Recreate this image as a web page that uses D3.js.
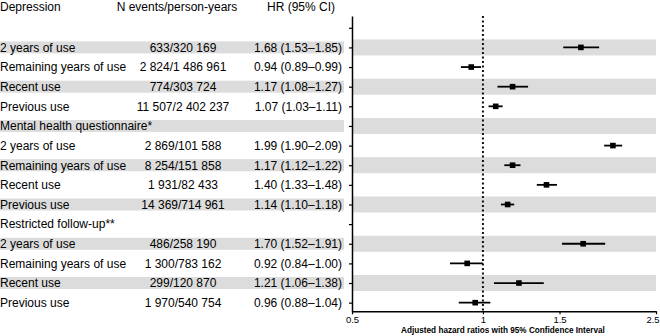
<!DOCTYPE html>
<html>
<head>
<meta charset="utf-8">
<script src="https://cdn.jsdelivr.net/npm/d3@7.9.0/dist/d3.min.js"></script>
<style>
  body { margin: 0; background: #fff; }
  svg { display: block; font-family: "Liberation Sans", Arial, sans-serif; }
</style>
</head>
<body>
<svg width="660" height="336"></svg>
<script>
// rows: first one is an empty spacer, group headers have no values
const labels = ["", "2 years of use", "Remaining years of use", "Recent use", "Previous use",
  "Mental health questionnaire*", "2 years of use", "Remaining years of use", "Recent use", "Previous use",
  "Restricted follow-up**", "2 years of use", "Remaining years of use", "Recent use", "Previous use"];
const events = ["", "633/320 169", "2 824/1 486 961", "774/303 724", "11 507/2 402 237",
  "", "2 869/101 588", "8 254/151 858", "1 931/82 433", "14 369/714 961",
  "", "486/258 190", "1 300/783 162", "299/120 870", "1 970/540 754"];
const hr = [null, 1.68, 0.94, 1.17, 1.07, null, 1.99, 1.17, 1.40, 1.14, null, 1.70, 0.92, 1.21, 0.96];
const lo = [null, 1.53, 0.89, 1.08, 1.03, null, 1.90, 1.12, 1.33, 1.10, null, 1.52, 0.84, 1.06, 0.88];
const hi = [null, 1.85, 0.99, 1.27, 1.11, null, 2.09, 1.22, 1.48, 1.18, null, 1.91, 1.00, 1.38, 1.04];
const xTicks = [0.5, 1, 1.5, 2.5];

const svg = d3.select("svg");
const fmt = d3.format(".2f");

const x = d3.scaleLog().domain([0.5, 2.5]).range([352, 656]);
const y = d3.scaleLinear().domain([-0.6, labels.length - 1 + 0.44]).range([16, 311.3]);

const rows = labels.map((label, i) => ({ i, label, ev: events[i], hr: hr[i], lo: lo[i], hi: hi[i] }));

// alternating grey bands
const shaded = rows.filter(d => d.i % 2 === 1);
svg.selectAll(".band-t").data(shaded).join("rect")
  .attr("x", 0).attr("width", 344)
  .attr("y", d => y(d.i) - 6).attr("height", 12)
  .attr("fill", "#dcdcdc");
svg.selectAll(".band-p").data(shaded).join("rect")
  .attr("x", x.range()[0] + 1).attr("width", x.range()[1] - x.range()[0] - 1)
  .attr("y", d => y(d.i) - 8).attr("height", 16)
  .attr("fill", "#dcdcdc");

// column headers
const head = svg.append("g").attr("font-size", 12).attr("fill", "#000");
head.append("text").attr("x", 0).attr("y", 11).text("Depression");
head.append("text").attr("x", 177).attr("y", 11).attr("text-anchor", "middle").text("N events/person-years");
head.append("text").attr("x", 335).attr("y", 11).attr("text-anchor", "end").text("HR (95% CI)");

// table text
const tab = svg.append("g").attr("font-size", 12).attr("fill", "#000");
tab.selectAll(".lab").data(rows).join("text")
  .attr("x", 0).attr("y", d => y(d.i) + 4.3).text(d => d.label);
tab.selectAll(".ev").data(rows).join("text")
  .attr("x", 183).attr("y", d => y(d.i) + 4.3).attr("text-anchor", "middle").text(d => d.ev);
tab.selectAll(".hr").data(rows.filter(d => d.hr != null)).join("text")
  .attr("x", 342).attr("y", d => y(d.i) + 4.3).attr("text-anchor", "end")
  .text(d => `${fmt(d.hr)} (${fmt(d.lo)}–${fmt(d.hi)})`);

// reference line at HR = 1
svg.append("line")
  .attr("x1", x(1)).attr("x2", x(1)).attr("y1", 16).attr("y2", 311)
  .attr("stroke", "#111").attr("stroke-width", 2).attr("stroke-dasharray", "2,2.5");

// y axis
const yAxis = d3.axisLeft(y).tickValues(d3.range(labels.length)).tickSize(3).tickFormat("").tickSizeOuter(0);
svg.append("g").attr("transform", `translate(${x.range()[0]},0)`).call(yAxis)
  .call(g => g.select(".domain").attr("stroke-width", 1.5))
  .call(g => g.selectAll(".tick line").attr("stroke-width", 1.2));

// x axis
const xAxis = d3.axisBottom(x).tickValues(xTicks).tickFormat(d3.format("")).tickSize(3).tickSizeOuter(0);
svg.append("g").attr("transform", `translate(0,${y.range()[1]})`).call(xAxis)
  .call(g => g.select(".domain").attr("stroke-width", 1.5))
  .call(g => g.selectAll(".tick line").attr("stroke-width", 1.2))
  .call(g => g.selectAll(".tick text").attr("font-size", 9.5).attr("font-family", null)
    .attr("dy", "0.6em").attr("fill", "#000")
    .attr("dx", d => d === xTicks[xTicks.length - 1] ? -3.5 : 0));

svg.append("text")
  .attr("x", (x.range()[0] + x.range()[1]) / 2 - 1).attr("y", 333)
  .attr("text-anchor", "middle").attr("font-size", 8.2).attr("font-weight", "bold").attr("fill", "#000")
  .text("Adjusted hazard ratios with 95% Confidence Interval");

// confidence intervals and point estimates
const est = rows.filter(d => d.hr != null);
svg.selectAll(".ci").data(est).join("line")
  .attr("x1", d => x(d.lo)).attr("x2", d => x(d.hi))
  .attr("y1", d => y(d.i)).attr("y2", d => y(d.i))
  .attr("stroke", "#000").attr("stroke-width", 1.8);
svg.selectAll(".pt").data(est).join("rect")
  .attr("x", d => x(d.hr) - 2.8).attr("y", d => y(d.i) - 2.8)
  .attr("width", 5.6).attr("height", 5.6).attr("fill", "#000");
</script>
</body>
</html>
